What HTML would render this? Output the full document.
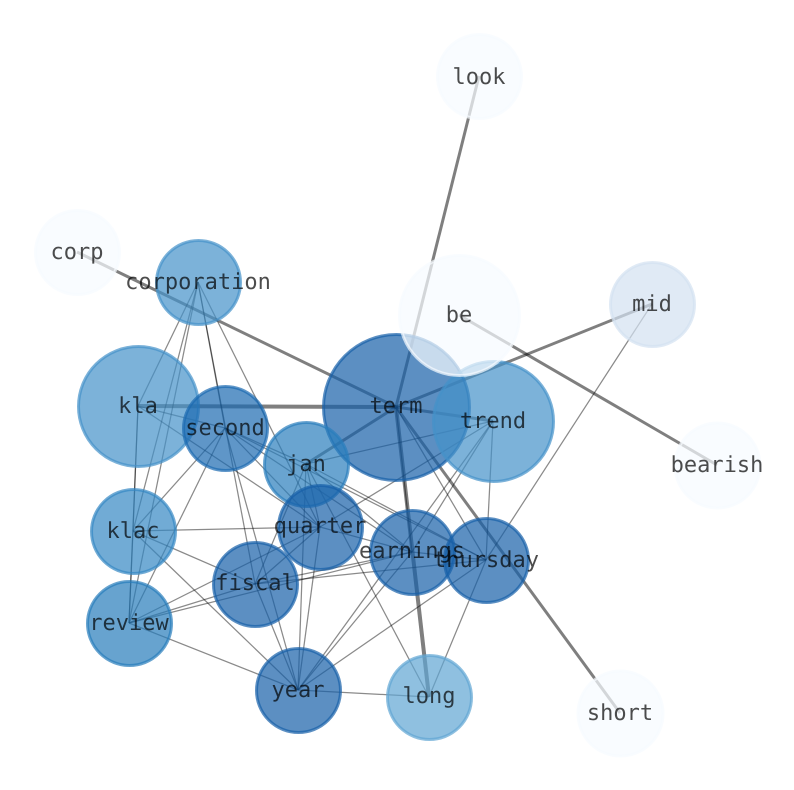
<!DOCTYPE html>
<html><head><meta charset="utf-8"><style>
html,body{margin:0;padding:0;background:#fff}
svg{display:block}
text{font-family:"DejaVu Sans Mono","Liberation Mono",monospace;font-size:22px;fill:#000;fill-opacity:.7;text-anchor:middle;text-rendering:geometricPrecision}
.t line{stroke:#000;stroke-opacity:.46;stroke-width:1.25}
.w line{stroke:#000;stroke-opacity:.5;stroke-width:3}
.x line{stroke:#000;stroke-opacity:.5;stroke-width:4}
circle{stroke-width:3;fill-opacity:.7;stroke-opacity:.7}
.e{fill:#f7fbff;stroke:#f7fbff}
</style></head><body>
<svg width="794" height="790" viewBox="0 0 794 790" xmlns="http://www.w3.org/2000/svg">
<g class="t">
<line x1="198" y1="282" x2="138" y2="406"/>
<line x1="198" y1="282" x2="133" y2="531"/>
<line x1="198" y1="282" x2="129" y2="623"/>
<line x1="198" y1="282" x2="225" y2="428"/>
<line x1="198" y1="282" x2="255" y2="584"/>
<line x1="198" y1="282" x2="320" y2="527"/>
<line x1="138" y1="406" x2="225" y2="428"/>
<line x1="138" y1="406" x2="320" y2="527"/>
<line x1="138" y1="406" x2="133" y2="531"/>
<line x1="138" y1="406" x2="129" y2="623"/>
<line x1="225" y1="428" x2="306" y2="464"/>
<line x1="225" y1="428" x2="320" y2="527"/>
<line x1="225" y1="428" x2="412" y2="552"/>
<line x1="225" y1="428" x2="486" y2="560"/>
<line x1="225" y1="428" x2="298" y2="690"/>
<line x1="225" y1="428" x2="133" y2="531"/>
<line x1="225" y1="428" x2="129" y2="623"/>
<line x1="306" y1="464" x2="320" y2="527"/>
<line x1="306" y1="464" x2="412" y2="552"/>
<line x1="306" y1="464" x2="486" y2="560"/>
<line x1="306" y1="464" x2="255" y2="584"/>
<line x1="306" y1="464" x2="298" y2="690"/>
<line x1="306" y1="464" x2="429" y2="697"/>
<line x1="306" y1="464" x2="493" y2="421"/>
<line x1="133" y1="531" x2="320" y2="527"/>
<line x1="133" y1="531" x2="255" y2="584"/>
<line x1="133" y1="531" x2="298" y2="690"/>
<line x1="133" y1="531" x2="129" y2="623"/>
<line x1="320" y1="527" x2="412" y2="552"/>
<line x1="320" y1="527" x2="255" y2="584"/>
<line x1="320" y1="527" x2="298" y2="690"/>
<line x1="320" y1="527" x2="129" y2="623"/>
<line x1="320" y1="527" x2="493" y2="421"/>
<line x1="412" y1="552" x2="486" y2="560"/>
<line x1="412" y1="552" x2="298" y2="690"/>
<line x1="412" y1="552" x2="493" y2="421"/>
<line x1="412" y1="552" x2="255" y2="584"/>
<line x1="412" y1="552" x2="129" y2="623"/>
<line x1="486" y1="560" x2="298" y2="690"/>
<line x1="486" y1="560" x2="429" y2="697"/>
<line x1="486" y1="560" x2="493" y2="421"/>
<line x1="486" y1="560" x2="652" y2="304"/>
<line x1="486" y1="560" x2="255" y2="584"/>
<line x1="255" y1="584" x2="298" y2="690"/>
<line x1="129" y1="623" x2="255" y2="584"/>
<line x1="129" y1="623" x2="298" y2="690"/>
<line x1="298" y1="690" x2="429" y2="697"/>
<line x1="298" y1="690" x2="493" y2="421"/>
<line x1="396" y1="407" x2="486" y2="560"/>
<line x1="396" y1="407" x2="412" y2="552"/>
</g>
<g class="w">
<line x1="396" y1="407" x2="479" y2="76"/>
<line x1="396" y1="407" x2="77" y2="252"/>
<line x1="396" y1="407" x2="652" y2="304"/>
<line x1="396" y1="407" x2="620" y2="713"/>
<line x1="459" y1="315" x2="717" y2="465"/>
<line x1="396" y1="407" x2="306" y2="464"/>
<line x1="396" y1="407" x2="493" y2="421"/>
</g>
<g class="x">
<line x1="396" y1="407" x2="138" y2="406"/>
<line x1="396" y1="407" x2="429" y2="697"/>
</g>
<g transform="translate(.5 .5)">
<circle cx="396" cy="407" r="73" fill="#1760a8" stroke="#1760a8"/>
<circle cx="138" cy="406" r="60" fill="#4592c9" stroke="#4592c9"/>
<circle cx="493" cy="421" r="60" fill="#4592c9" stroke="#4592c9"/>
<circle cx="198" cy="282" r="42" fill="#4592c9" stroke="#4592c9"/>
<circle cx="225" cy="428" r="42" fill="#1b69b0" stroke="#1b69b0"/>
<circle cx="306" cy="464" r="42" fill="#2a7ebc" stroke="#2a7ebc"/>
<circle cx="133" cy="531" r="42" fill="#3488c3" stroke="#3488c3"/>
<circle cx="320" cy="527" r="42" fill="#1760a8" stroke="#1760a8"/>
<circle cx="412" cy="552" r="42" fill="#1760a8" stroke="#1760a8"/>
<circle cx="486" cy="560" r="42" fill="#1760a8" stroke="#1760a8"/>
<circle cx="255" cy="584" r="42" fill="#1760a8" stroke="#1760a8"/>
<circle cx="129" cy="623" r="42" fill="#277cba" stroke="#277cba"/>
<circle cx="298" cy="690" r="42" fill="#1760a8" stroke="#1760a8"/>
<circle cx="429" cy="697" r="42" fill="#5fa5d3" stroke="#5fa5d3"/>
<circle cx="652" cy="304" r="42" fill="#d3e1f1" stroke="#d3e1f1"/>
<circle class="e" cx="459" cy="315" r="60"/>
<circle class="e" cx="479" cy="76" r="42"/>
<circle class="e" cx="77" cy="252" r="42"/>
<circle class="e" cx="717" cy="465" r="42.5"/>
<circle class="e" cx="620" cy="713" r="42.5"/>
</g>
<text x="479" y="84">look</text>
<text x="77" y="259">corp</text>
<text x="198" y="289">corporation</text>
<text x="459" y="322">be</text>
<text x="652" y="311">mid</text>
<text x="138" y="413">kla</text>
<text x="396" y="413">term</text>
<text x="493" y="428">trend</text>
<text x="225" y="435">second</text>
<text x="306" y="471">jan</text>
<text x="717" y="472">bearish</text>
<text x="133" y="538">klac</text>
<text x="320" y="533">quarter</text>
<text x="412" y="558">earnings</text>
<text x="486" y="567">thursday</text>
<text x="255" y="590">fiscal</text>
<text x="129" y="630">review</text>
<text x="298" y="697">year</text>
<text x="429" y="703">long</text>
<text x="620" y="720">short</text>
</svg>
</body></html>
